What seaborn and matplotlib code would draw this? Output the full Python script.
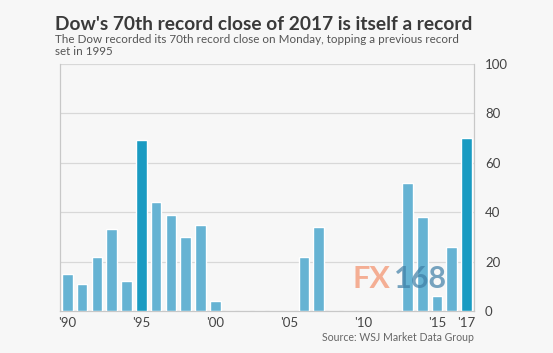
import pandas as pd
import matplotlib.pyplot as plt
import seaborn as sns

# Number of record closes per year for the Dow
years = list(range(1990, 2018))
records = [15, 11, 22, 33, 12, 69, 44, 39, 30, 35, 4,
           0, 0, 0, 0, 0, 22, 34, 0, 0, 0, 0, 0,
           52, 38, 6, 26, 70]
highlight_years = [1995, 2017]
tick_years = [1990, 1995, 2000, 2005, 2010, 2015, 2017]

df = pd.DataFrame({"year": years, "records": records})
df["kind"] = ["hi" if y in highlight_years else "lo" for y in df["year"]]

sns.set_style("white")
plt.rcParams["font.family"] = ["Lato", "DejaVu Sans"]

fig = plt.figure(figsize=(5.53, 3.53), dpi=100)
fig.patch.set_facecolor("#f7f7f7")
ax = fig.add_axes([0.1085, 0.119, 0.7485, 0.70])
ax.set_facecolor("#f7f7f7")

sns.barplot(data=df, x="year", y="records", hue="kind",
            palette={"lo": "#66b3d3", "hi": "#1a9bc2"}, saturation=1,
            dodge=False, width=0.72, legend=False, ax=ax, zorder=3)

ax.set_ylim(0, 100)
ax.set_xlim(-0.5, len(years) - 0.5)
ax.set_yticks(range(0, 101, 20))
ax.yaxis.tick_right()
ax.yaxis.grid(True, color="#d8d8d8", linewidth=0.9, zorder=0)
ax.tick_params(axis="y", length=0, pad=8, labelsize=9.5, labelcolor="#444444")

pos = [years.index(y) for y in tick_years]
ax.set_xticks(pos)
ax.set_xticklabels(["'" + str(y)[2:] for y in tick_years])
ax.tick_params(axis="x", length=0, pad=4, labelsize=9.5, labelcolor="#444444")

for s in ["left", "right", "bottom"]:
    ax.spines[s].set_color("#c8c8c8")
    ax.spines[s].set_linewidth(0.9)
ax.spines["top"].set_visible(False)
ax.set_xlabel("")
ax.set_ylabel("")

fig.text(0.099, 0.915, "Dow's 70th record close of 2017 is itself a record",
         fontsize=13.8, fontweight="bold", color="#3a3a3a")
fig.text(0.099, 0.845, "The Dow recorded its 70th record close on Monday, topping a previous record\nset in 1995",
         fontsize=8.4, color="#555555", linespacing=1.05)
fig.text(0.857, 0.035, "Source: WSJ Market Data Group",
         fontsize=7.6, color="#666666", ha="right")

# watermark
fig.text(0.637, 0.185, "FX", fontsize=22, fontweight="bold", color="#f4a283", alpha=0.85)
fig.text(0.713, 0.185, "168", fontsize=22, fontweight="bold", color="#3f7fa6", alpha=0.7)

fig.savefig("out.png", dpi=100, facecolor=fig.get_facecolor())
